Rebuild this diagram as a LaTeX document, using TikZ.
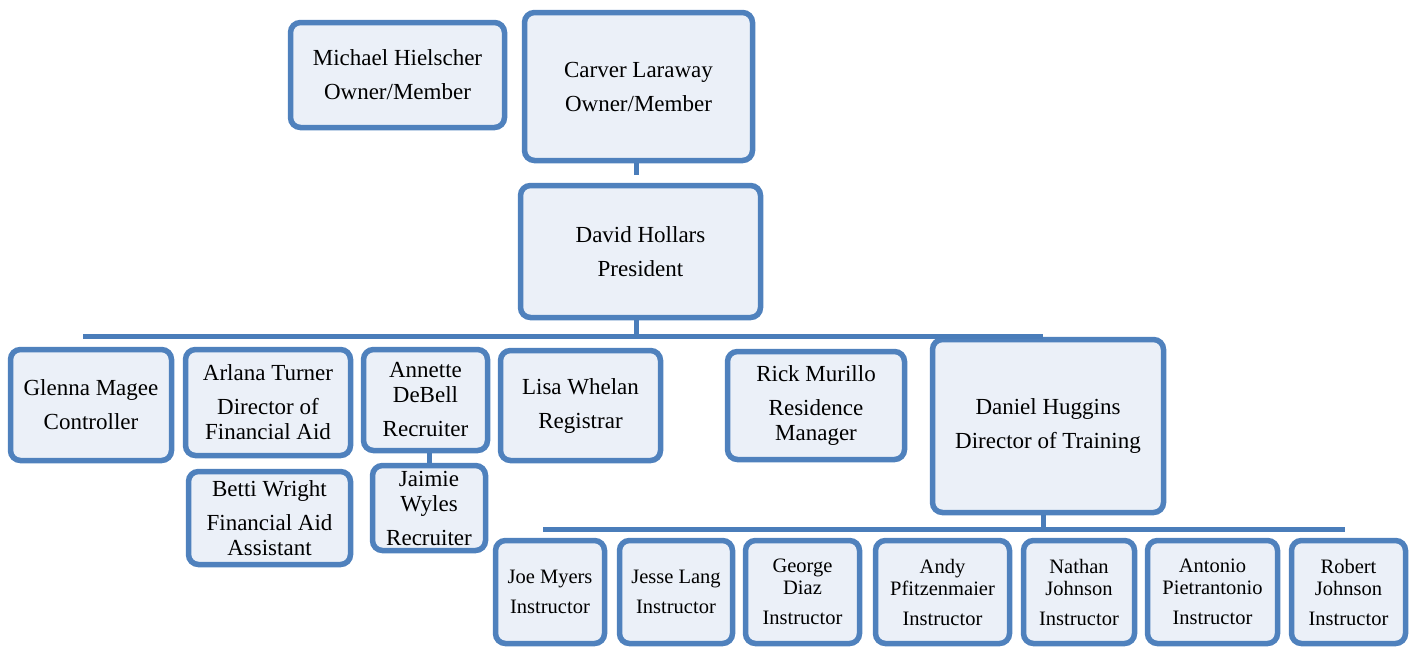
\documentclass[tikz,border=0pt]{standalone}
\usepackage{fontspec}
\setmainfont{Liberation Serif}
\definecolor{boxblue}{HTML}{4F81BD}
\definecolor{lineblue}{HTML}{4A7DBA}
\definecolor{boxfill}{HTML}{EBF0F8}
\begin{document}
\begin{tikzpicture}[x=1pt,y=-1pt,
  box/.style={draw=boxblue, line width=5.5pt, fill=boxfill, rounded corners=10pt,
    align=center, inner sep=0pt, font=\fontsize{23}{25}\selectfont},
  ibox/.style={box, minimum height=103pt, font=\fontsize{20.5}{22}\selectfont},
  conn/.style={draw=lineblue, line width=5pt}]
\useasboundingbox (0,0) rectangle (1414,648);
% top
\node[box, minimum width=214pt, minimum height=105pt] (mh) at (397.5,75) {Michael Hielscher\\[9pt]Owner/Member};
\node[box, minimum width=228pt, minimum height=148pt] (cl) at (638.5,86.5) {Carver Laraway\\[9pt]Owner/Member};
\node[box, minimum width=240pt, minimum height=132pt] (dh) at (640.5,251.5) {David Hollars\\[9pt]President};
% second level
\node[box, minimum width=161pt, minimum height=111pt] (gm) at (91,405) {Glenna Magee\\[9pt]Controller};
\node[box, minimum width=165pt, minimum height=106pt] (at) at (268,402.5) {Arlana Turner\\[9pt]Director of\\Financial Aid};
\node[box, minimum width=124pt, minimum height=101pt] (ad) at (425.5,400) {Annette\\DeBell\\[9pt]Recruiter};
\node[box, minimum width=160pt, minimum height=110pt] (lw) at (580.5,405.5) {Lisa Whelan\\[9pt]Registrar};
\node[box, minimum width=177pt, minimum height=108pt] (rm) at (816,405.5) {Rick Murillo\\[9pt]Residence\\Manager};
\node[box, minimum width=231pt, minimum height=173pt] (dg) at (1048,426) {Daniel Huggins\\[9pt]Director of Training};
\node[box, minimum width=162pt, minimum height=93pt] (bw) at (269.5,518) {Betti Wright\\[9pt]Financial Aid\\Assistant};
\node[box, minimum width=113pt, minimum height=85pt] (jw) at (429,508) {Jaimie\\Wyles\\[9pt]Recruiter};
% instructors
\node[ibox, minimum width=109pt] (jm) at (550,592) {Joe Myers\\[8pt]Instructor};
\node[ibox, minimum width=113pt] (jl) at (676,592) {Jesse Lang\\[8pt]Instructor};
\node[ibox, minimum width=114pt] (gd) at (802.5,592) {George\\Diaz\\[8pt]Instructor};
\node[ibox, minimum width=134pt] (ap) at (942.5,592) {Andy\\Pfitzenmaier\\[8pt]Instructor};
\node[ibox, minimum width=111pt] (nj) at (1079,592) {Nathan\\Johnson\\[8pt]Instructor};
\node[ibox, minimum width=130pt] (an) at (1212.5,592) {Antonio\\Pietrantonio\\[8pt]Instructor};
\node[ibox, minimum width=114pt] (rj) at (1348.5,592) {Robert\\Johnson\\[8pt]Instructor};
% connectors
\coordinate (stub) at (636,175);
\coordinate (b1l) at (83,336);
\coordinate (b1m) at (636,336);
\coordinate (b1r) at (1043,336);
\coordinate (b2l) at (543,529);
\coordinate (b2m) at (1043,529);
\coordinate (b2r) at (1345,529);
\draw[conn] (cl.south -| stub) -- (stub);
\draw[conn] (dh.south -| b1m) -- (b1m);
\draw[conn] (b1l) -- (b1r);
\draw[conn] (dg.south -| b2m) -- (b2m);
\draw[conn] (b2l) -- (b2r);
\draw[conn] (ad.south -| jw.north) -- (jw.north);
\end{tikzpicture}
\end{document}
